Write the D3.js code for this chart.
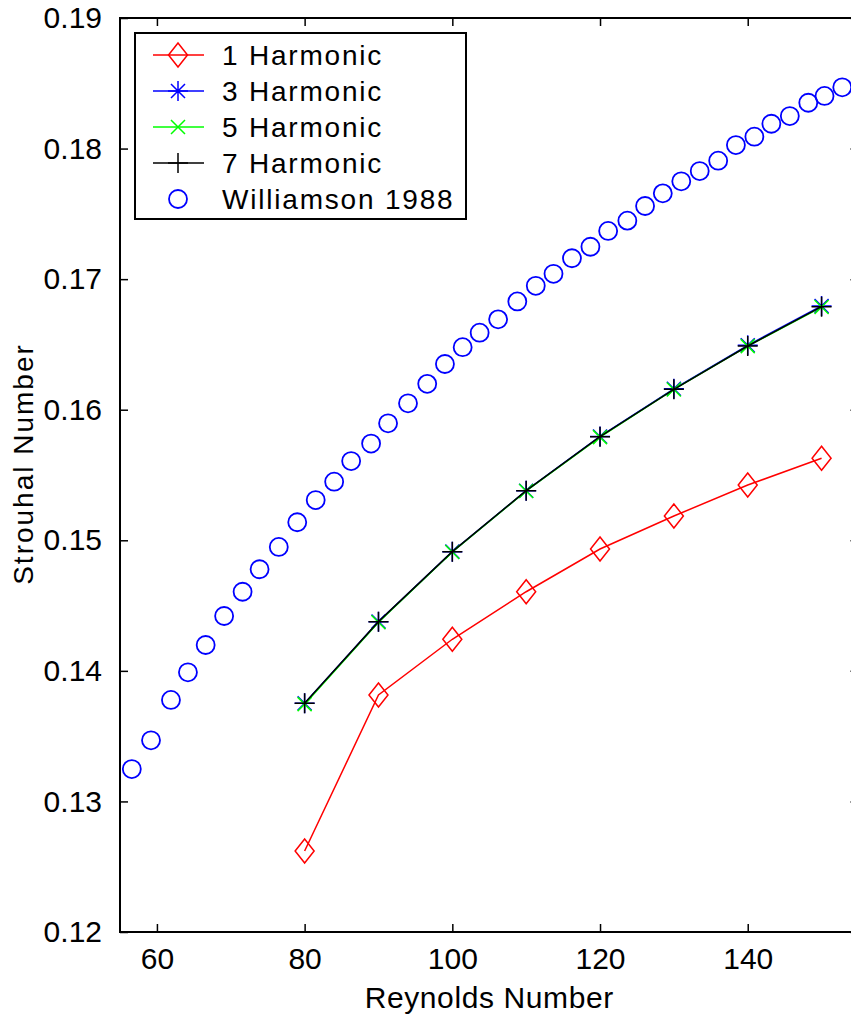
<!DOCTYPE html>
<html>
<head>
<meta charset="utf-8">
<script src="https://cdn.jsdelivr.net/npm/d3@7"></script>
<style>
body { margin: 0; background: #fff; }
text { font-family: "Liberation Sans", Arial, Helvetica, sans-serif; fill: #000; }
</style>
</head>
<body>
<svg id="chart"></svg>
<script>
// Strouhal number vs Reynolds number: harmonic models against Williamson (1988)

const harmonicRe = [80, 90, 100, 110, 120, 130, 140, 150];
const st1 = [0.1262, 0.13815, 0.14242, 0.14606, 0.14933, 0.15186, 0.15423, 0.15628];
const st3 = [0.13751, 0.14377, 0.14913, 0.1538, 0.15795, 0.1616, 0.16493, 0.16795];
const st5 = [0.13745, 0.14372, 0.14910, 0.15378, 0.15790, 0.16155, 0.16487, 0.16786];
const st7 = [0.13751, 0.14377, 0.14913, 0.1538, 0.15793, 0.16156, 0.16488, 0.16789];

const willRe = [56.6, 59.2, 61.9, 64.2, 66.6, 69.1, 71.6, 73.9, 76.5, 79.0,
    81.5, 84.0, 86.3, 89.0, 91.3, 94.0, 96.6, 99.0, 101.4, 103.7,
    106.2, 108.8, 111.3, 113.7, 116.2, 118.7, 121.1, 123.7, 126.1, 128.5,
    131.0, 133.5, 136.0, 138.4, 140.9, 143.2, 145.7, 148.2, 150.4, 152.8];
const willSt = [0.13248, 0.13468, 0.13777, 0.13989, 0.14198, 0.1442, 0.14606, 0.14778, 0.14949, 0.15138,
    0.15308, 0.15449, 0.15607, 0.15741, 0.15896, 0.16049, 0.16198, 0.1635, 0.16479, 0.1659,
    0.16692, 0.16829, 0.16949, 0.17041, 0.1716, 0.17248, 0.17369, 0.17448, 0.1756, 0.17657,
    0.17749, 0.17828, 0.17907, 0.18027, 0.18091, 0.1819, 0.18249, 0.18351, 0.18403, 0.18469];

const xTicks = [60, 80, 100, 120, 140];
const yTicks = [0.12, 0.13, 0.14, 0.15, 0.16, 0.17, 0.18, 0.19];

const legendLabels = ["1 Harmonic", "3 Harmonic", "5 Harmonic", "7 Harmonic", "Williamson 1988"];

const chartWidth = 851;
const chartHeight = 1014;

const margin = { top: 18, left: 120 };
const width = 738.5;
const height = 914;

const svg = d3.select("#chart")
    .attr("width", chartWidth)
    .attr("height", chartHeight);

const g = svg.append("g")
    .attr("transform", `translate(${margin.left}, ${margin.top})`);

const xScale = d3.scaleLinear().domain([55, 155]).range([0, width]);
const yScale = d3.scaleLinear().domain([0.12, 0.19]).range([height, 0]);

const series = [
    { label: legendLabels[0], values: st1, color: "#ff0000", marker: "diamond" },
    { label: legendLabels[1], values: st3, color: "#0000ff", marker: "asterisk" },
    { label: legendLabels[2], values: st5, color: "#00ff00", marker: "x" },
    { label: legendLabels[3], values: st7, color: "#000000", marker: "plus" }
];

function markerPath(type) {
    switch (type) {
        case "diamond": return "M0,-12L9.5,0L0,12L-9.5,0Z";
        case "plus": return "M0,-10V10M-10,0H10";
        case "x": return "M-7,-7L7,7M-7,7L7,-7";
        case "asterisk": return "M0,-10V10M-10,0H10M-7,-7L7,7M-7,7L7,-7";
    }
    return "";
}

// box ticks, MATLAB style (inward, all four sides)
const tickLen = 8;

const xAxisBottom = d3.axisBottom(xScale).tickValues(xTicks).tickSizeInner(-tickLen).tickSizeOuter(0).tickPadding(16);
const xAxisTop = d3.axisTop(xScale).tickValues(xTicks).tickSizeInner(-tickLen).tickSizeOuter(0).tickFormat("");
const yAxisLeft = d3.axisLeft(yScale).tickValues(yTicks).tickSizeInner(-tickLen).tickSizeOuter(0).tickPadding(18)
    .tickFormat(d3.format(".2f"));
const yAxisRight = d3.axisRight(yScale).tickValues(yTicks).tickSizeInner(-tickLen).tickSizeOuter(0).tickFormat("");

g.append("g").attr("transform", `translate(0, ${height})`).call(xAxisBottom);
g.append("g").call(xAxisTop);
g.append("g").call(yAxisLeft);
g.append("g").attr("transform", `translate(${width}, 0)`).call(yAxisRight);

g.selectAll(".domain").remove();
g.selectAll(".tick line").attr("stroke", "#000").attr("stroke-width", 1.5);
g.selectAll(".tick text")
    .attr("font-size", "30px")
    .attr("font-family", "'Liberation Sans', Arial, Helvetica, sans-serif")
    .attr("fill", "#000");

g.append("rect")
    .attr("width", width)
    .attr("height", height)
    .attr("fill", "none")
    .attr("stroke", "#000")
    .attr("stroke-width", 2);

const line = d3.line()
    .x(d => xScale(d[0]))
    .y(d => yScale(d[1]));

series.forEach(s => {
    const pts = harmonicRe.map((re, i) => [re, s.values[i]]);
    g.append("path")
        .datum(pts)
        .attr("fill", "none")
        .attr("stroke", s.color)
        .attr("stroke-width", 1.5)
        .attr("d", line);
    g.selectAll(null)
        .data(pts)
        .enter()
        .append("path")
        .attr("transform", d => `translate(${xScale(d[0])}, ${yScale(d[1])})`)
        .attr("d", markerPath(s.marker))
        .attr("fill", "none")
        .attr("stroke", s.color)
        .attr("stroke-width", 1.5);
});

g.selectAll(".will")
    .data(willRe.map((re, i) => [re, willSt[i]]))
    .enter()
    .append("circle")
    .attr("class", "will")
    .attr("cx", d => xScale(d[0]))
    .attr("cy", d => yScale(d[1]))
    .attr("r", 9)
    .attr("fill", "none")
    .attr("stroke", "#0000ff")
    .attr("stroke-width", 1.8);

// axis labels
svg.append("text")
    .attr("x", margin.left + width / 2)
    .attr("y", 1008)
    .attr("text-anchor", "middle")
    .attr("font-size", "30px")
    .attr("letter-spacing", "0.6px")
    .text("Reynolds Number");

svg.append("text")
    .attr("transform", "translate(33, 464) rotate(-90)")
    .attr("text-anchor", "middle")
    .attr("font-size", "28px")
    .attr("letter-spacing", "2px")
    .text("Strouhal Number");

// legend
const legend = svg.append("g").attr("transform", "translate(135, 33)");

legend.append("rect")
    .attr("width", 331)
    .attr("height", 186)
    .attr("fill", "#fff")
    .attr("stroke", "#000")
    .attr("stroke-width", 2);

const legendItems = series.concat([{ label: legendLabels[4], color: "#0000ff", marker: "circle" }]);

legendItems.forEach((s, i) => {
    const row = legend.append("g").attr("transform", `translate(0, ${22 + i * 36})`);
    if (s.marker !== "circle") {
        row.append("line")
            .attr("x1", 18).attr("x2", 69)
            .attr("stroke", s.color)
            .attr("stroke-width", 1.5);
        row.append("path")
            .attr("transform", "translate(43, 0)")
            .attr("d", markerPath(s.marker))
            .attr("fill", "none")
            .attr("stroke", s.color)
            .attr("stroke-width", 1.5);
    } else {
        row.append("circle")
            .attr("cx", 43)
            .attr("r", 9)
            .attr("fill", "none")
            .attr("stroke", s.color)
            .attr("stroke-width", 1.8);
    }
    row.append("text")
        .attr("x", 87)
        .attr("y", 10)
        .attr("font-size", "28px")
        .attr("letter-spacing", "1.8px")
        .text(s.label);
});
</script>
</body>
</html>
